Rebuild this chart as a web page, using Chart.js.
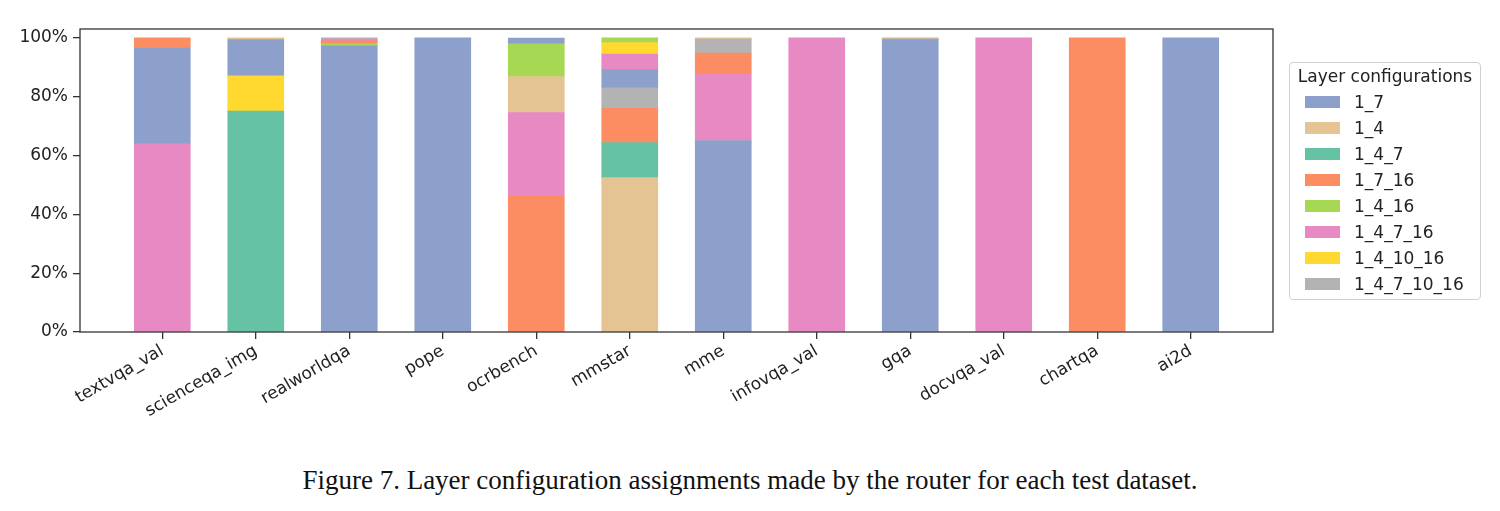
<!DOCTYPE html>
<html>
<head>
<meta charset="utf-8">
<script src="https://cdn.jsdelivr.net/npm/chart.js@4.4.1/dist/chart.umd.min.js"></script>
<style>
  html, body { margin: 0; padding: 0; background: #fff; }
  body { width: 1500px; height: 511px; position: relative; overflow: hidden; font-family: "DejaVu Sans", sans-serif; }
  #wrap { position: absolute; left: 0; top: 0; width: 1500px; height: 445px; }
  #legend { position: absolute; left: 1289px; top: 62px; width: 190px; height: 236px; border: 1px solid #d0d0d0; border-radius: 4px; box-sizing: content-box; }
  #legend .title { position: absolute; left: 0; width: 190px; top: 3px; text-align: center; font-size: 17px; line-height: 20px; color: #222; }
  #legend .row { position: absolute; left: 15px; height: 20px; font-size: 17px; line-height: 20px; color: #222; }
  #legend .sw { position: absolute; left: 0; top: 4px; width: 35px; height: 12px; }
  #legend .lb { position: absolute; left: 49px; top: 0; white-space: nowrap; }
  #caption { position: absolute; left: 0; top: 464px; width: 1500px; text-align: center; font-family: "Liberation Serif", "Times New Roman", serif; font-size: 27px; line-height: 32px; color: #111; }
</style>
</head>
<body>
<div id="wrap"><canvas id="c" width="1500" height="445"></canvas></div>
<div id="legend"></div>
<div id="caption">Figure 7. Layer configuration assignments made by the router for each test dataset.</div>
<script>
// ---- data ----
const categories = ["textvqa_val", "scienceqa_img", "realworldqa", "pope", "ocrbench", "mmstar", "mme", "infovqa_val", "gqa", "docvqa_val", "chartqa", "ai2d"];
const configNames = ["1_7", "1_4", "1_4_7", "1_7_16", "1_4_16", "1_4_7_16", "1_4_10_16", "1_4_7_10_16"];
const configColors = ["#8da0cb", "#e5c494", "#66c2a5", "#fc8d62", "#a6d854", "#e78ac3", "#ffd92f", "#b3b3b3"];
// percentages per dataset (same order as categories)
const v_1_7        = [32.5, 12.1, 97.3, 100, 1.6,  6.0, 65.1, 0,   99.4, 0,   0,   100];
const v_1_4        = [0,    0.6,  0,    0,   12.0, 52.5, 0.2, 0,   0.1,  0,   0,   0];
const v_1_4_7      = [0,    75.1, 0,    0,   0,    11.9, 0,   0,   0,    0,   0,   0];
const v_1_7_16     = [3.3,  0,    0.7,  0,   46.4, 11.6, 6.8, 0,   0,    0,   100, 0];
const v_1_4_16     = [0,    0,    1.0,  0,   11.4, 1.4,  0,   0,   0,    0,   0,   0];
const v_1_4_7_16   = [64.2, 0,    0.6,  0,   28.4, 5.3,  22.9, 100, 0,   100, 0,   0];
const v_1_4_10_16  = [0,    12.2, 0,    0,   0.2,  4.1,  0,   0,   0,    0,   0,   0];
const v_1_4_7_10_16= [0,    0,    0.4,  0,   0,    7.2,  5.0, 0,   0.5,  0,   0,   0];
const yTicks = [0, 20, 40, 60, 80, 100];

const series = [v_1_7, v_1_4, v_1_4_7, v_1_7_16, v_1_4_16, v_1_4_7_16, v_1_4_10_16, v_1_4_7_10_16];

// Within each dataset bar, segments are stacked largest first (bottom) -> floating ranges
const ranges = series.map(() => categories.map(() => null));
categories.forEach((c, i) => {
  const order = series.map((s, k) => k).sort((a, b) => series[b][i] - series[a][i]);
  let base = 0;
  order.forEach(k => {
    const v = series[k][i];
    if (v > 0) { ranges[k][i] = { x: i, y: [base, base + v] }; base += v; }
  });
});

const datasets = configNames.map((name, k) => ({
  label: name,
  data: ranges[k].filter(d => d !== null),
  backgroundColor: configColors[k],
  borderWidth: 0,
  barThickness: 56,
  grouped: false
}));

const boxPlugin = {
  id: 'box',
  afterDatasetsDraw(chart) {
    const a = chart.chartArea, ctx = chart.ctx;
    ctx.save();
    ctx.strokeStyle = '#333';
    ctx.lineWidth = 1.3;
    ctx.strokeRect(a.left, a.top, a.right - a.left, a.bottom - a.top);
    ctx.restore();
  }
};

Chart.defaults.font.family = '"DejaVu Sans", sans-serif';
Chart.defaults.color = '#222';

new Chart(document.getElementById('c'), {
  type: 'bar',
  data: { datasets },
  plugins: [boxPlugin],
  options: {
    responsive: false,
    animation: false,
    layout: { padding: { left: 0, right: 227, top: 29, bottom: 0 } },
    plugins: { legend: { display: false }, tooltip: { enabled: false } },
    scales: {
      x: {
        type: 'linear',
        offset: false,
        min: -0.88,
        max: 11.88,
        border: { display: false },
        grid: { display: true, offset: false, drawOnChartArea: false, drawTicks: true, tickLength: 7, color: '#333', lineWidth: 1.3 },
        afterBuildTicks(scale) { scale.ticks = categories.map((c, i) => ({ value: i })); },
        afterFit(scale) { scale.height = 445 - 332; },
        ticks: {
          autoSkip: false,
          minRotation: 30,
          maxRotation: 30,
          padding: 2,
          font: { size: 17 },
          color: '#222',
          callback: (v) => categories[v]
        }
      },
      y: {
        type: 'linear',
        min: 0,
        max: 103,
        border: { display: false },
        grid: { display: true, drawOnChartArea: false, drawTicks: true, tickLength: 7, color: '#333', lineWidth: 1.3 },
        afterBuildTicks(scale) { scale.ticks = yTicks.map(v => ({ value: v })); },
        afterFit(scale) { scale.width = 80; },
        ticks: {
          padding: 5,
          font: { size: 17 },
          color: '#222',
          callback: (v) => v + '%'
        }
      }
    }
  }
});

// legend (HTML, real text)
const leg = document.getElementById('legend');
const t = document.createElement('div');
t.className = 'title';
t.textContent = 'Layer configurations';
leg.appendChild(t);
configNames.forEach((name, k) => {
  const r = document.createElement('div');
  r.className = 'row';
  r.style.top = (29 + k * 26) + 'px';
  const sw = document.createElement('div');
  sw.className = 'sw';
  sw.style.background = configColors[k];
  const lb = document.createElement('div');
  lb.className = 'lb';
  lb.textContent = name;
  r.appendChild(sw); r.appendChild(lb);
  leg.appendChild(r);
});
</script>
</body>
</html>
